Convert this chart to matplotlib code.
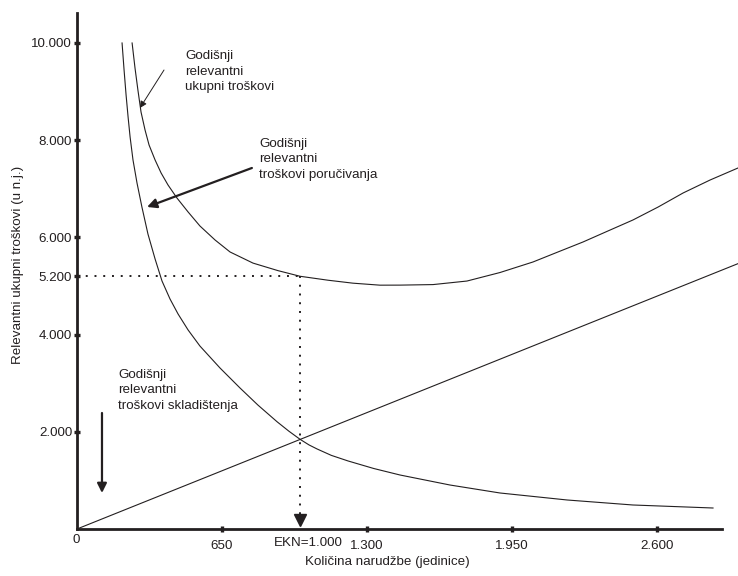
import matplotlib
matplotlib.use("Agg")
import matplotlib.pyplot as plt

plt.rcParams['font.family'] = ['Liberation Sans', 'DejaVu Sans']
plt.rcParams['font.size'] = 9.6

ink = '#231f20'

# values
total_x = [247, 260, 273, 287, 305, 323, 350, 377, 408, 448, 498, 551, 619, 686, 789, 901,
           1000, 1125, 1237, 1358, 1448, 1596, 1748, 1896, 2044, 2156, 2268, 2380, 2492,
           2605, 2717, 2838, 2963]
total_y = [10000, 9486, 9033, 8580, 8210, 7901, 7593, 7325, 7078, 6811, 6523, 6235, 5946,
           5700, 5471, 5316, 5200, 5119, 5058, 5017, 5018, 5029, 5102, 5277, 5494, 5700,
           5905, 6132, 6358, 6625, 6914, 7181, 7428]

order_x = [202, 211, 220, 229, 238, 251, 269, 291, 318, 350, 381, 417, 453, 498, 551, 641,
           731, 811, 897, 950, 1000, 1040, 1076, 1140, 1215, 1330, 1448, 1672, 1896, 2197,
           2492, 2851]
order_y = [10000, 9444, 8930, 8477, 8066, 7593, 7119, 6625, 6070, 5556, 5103, 4732, 4424,
           4095, 3765, 3313, 2900, 2550, 2206, 2012, 1845, 1730, 1647, 1515, 1400, 1245,
           1111, 905, 741, 597, 494, 432]

hold_x = [0, 2963]
hold_y = [0, 5460]

eoq = 1000
eoq_cost = 5200

xticks = [650, 1300, 1950, 2600]
xtick_labels = ['650', '1.300', '1.950', '2.600']
yticks = [2000, 4000, 5200, 6000, 8000, 10000]
ytick_labels = ['2.000', '4.000', '5.200', '6.000', '8.000', '10.000']

fig = plt.figure(figsize=(7.38, 5.76), dpi=100)
ax = fig.add_axes([77 / 738, 47 / 576, 661 / 738, 516 / 576])
ax.set_xlim(0, 2963)
ax.set_ylim(0, 10617)

ax.plot(total_x, total_y, color=ink, lw=0.8, clip_on=False)
ax.plot(order_x, order_y, color=ink, lw=0.8, clip_on=False)
ax.plot(hold_x, hold_y, color=ink, lw=0.8, clip_on=False)

# EKN guide lines
ax.plot([0, eoq], [eoq_cost, eoq_cost], color=ink, lw=1.4, ls=(0, (1, 3.5)))
ax.plot([eoq, eoq], [eoq_cost, 250], color=ink, lw=1.4, ls=(0, (1, 3.5)))
ax.plot([eoq], [190], marker='v', ms=8, color=ink, clip_on=False)

for s in ['top', 'right']:
    ax.spines[s].set_visible(False)
for s in ['left', 'bottom']:
    ax.spines[s].set_linewidth(2)
    ax.spines[s].set_color(ink)
ax.spines['bottom'].set_bounds(0, 2891)

ax.set_xticks(xticks)
ax.set_xticklabels(xtick_labels)
ax.set_yticks(yticks)
ax.set_yticklabels(ytick_labels)
ax.tick_params(axis='both', direction='inout', length=5, width=2.4, color=ink,
               labelcolor=ink, labelsize=9.6)
ax.tick_params(axis='y', pad=1)
ax.tick_params(axis='x', pad=5.4)

ax.text(-4, -230, '0', ha='center', va='center', color=ink, clip_on=False)
ax.text(1035, -280, 'EKN=1.000', ha='center', va='center', color=ink, clip_on=False)

fig.text(387 / 738, 1 - 562 / 576, 'Količina narudžbe (jedinice)', ha='center', va='center',
         color=ink)
fig.text(18 / 738, 1 - 265 / 576, 'Relevantni ukupni troškovi (u n.j.)', ha='center',
         va='center', rotation=90, color=ink)

# labels with arrows
ax.text(484, 9850, 'Godišnji\nrelevantni\nukupni troškovi', ha='left', va='top',
        color=ink, linespacing=1.4)
ax.annotate('', xy=(282, 8662), xytext=(390, 9444),
            arrowprops=dict(arrowstyle='-|>', color=ink, lw=0.7, shrinkA=0, shrinkB=0,
                            mutation_scale=10))

ax.text(816, 8050, 'Godišnji\nrelevantni\ntroškovi poručivanja', ha='left', va='top',
        color=ink, linespacing=1.4)
ax.annotate('', xy=(314, 6626), xytext=(784, 7428),
            arrowprops=dict(arrowstyle='-|>', color=ink, lw=1.6, shrinkA=0, shrinkB=0,
                            mutation_scale=14))

ax.text(184, 3300, 'Godišnji\nrelevantni\ntroškovi skladištenja', ha='left', va='top',
        color=ink, linespacing=1.4)
ax.annotate('', xy=(112, 741), xytext=(112, 2387),
            arrowprops=dict(arrowstyle='-|>', color=ink, lw=1.6, shrinkA=0, shrinkB=0,
                            mutation_scale=14))

fig.savefig('out.png', dpi=100)
